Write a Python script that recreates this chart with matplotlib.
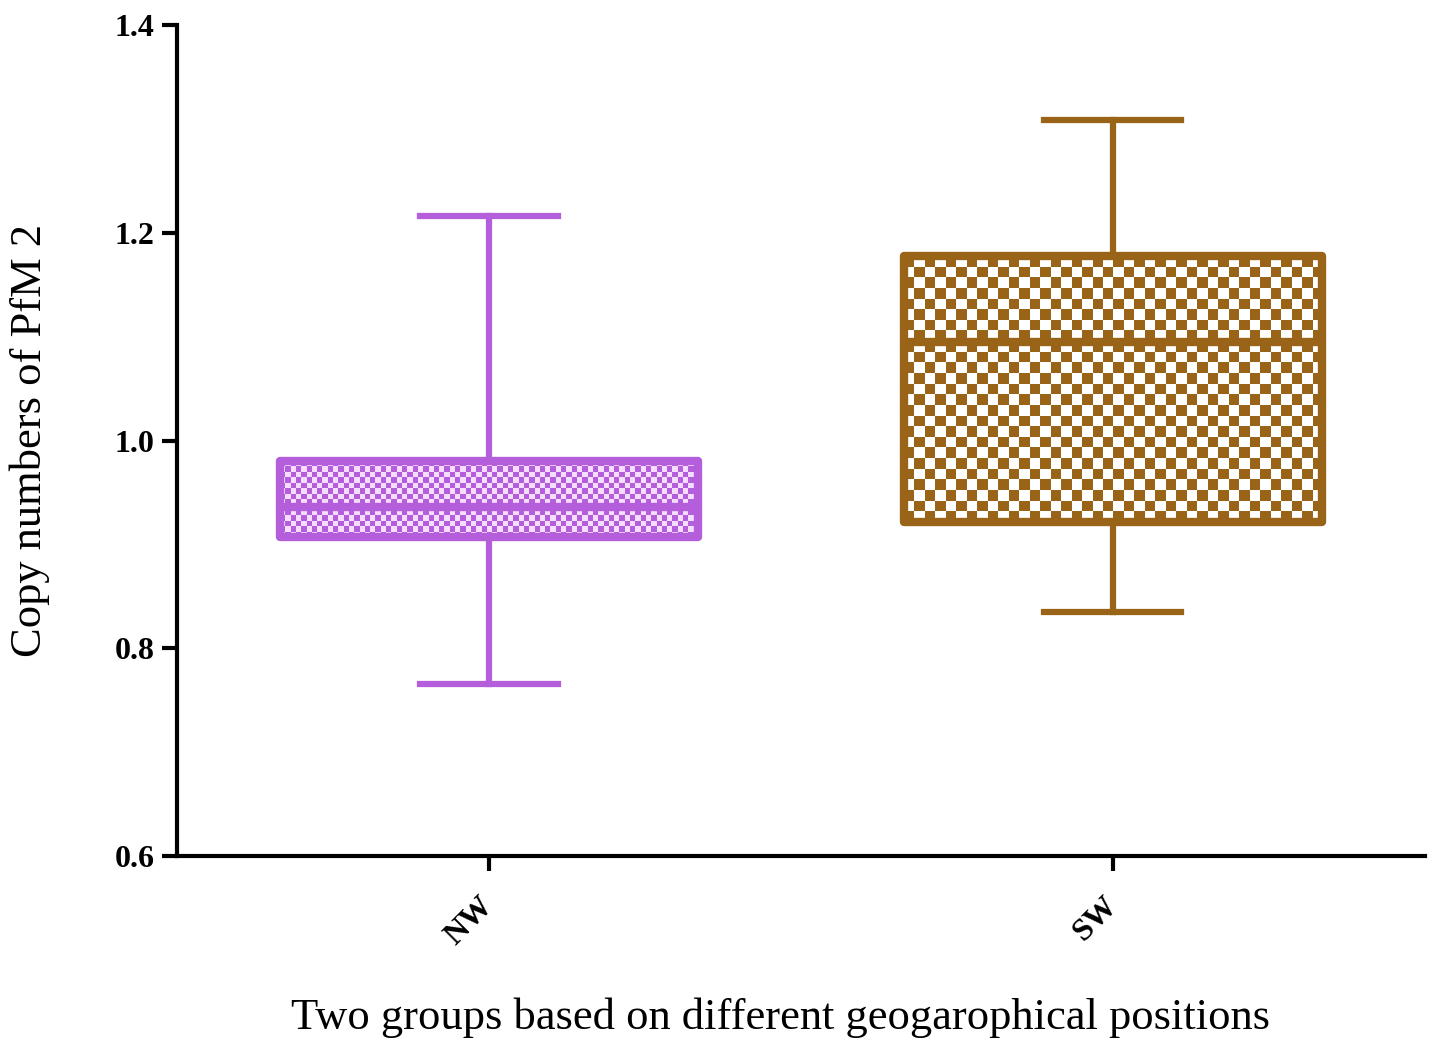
import numpy as np
import matplotlib
matplotlib.use('Agg')
import matplotlib.pyplot as plt

# Valores (cuartiles y bigotes)
grupos = ['NW', 'SW']
bigote_bajo = [0.766, 0.835]
q1 = [0.907, 0.922]
mediana = [0.936, 1.095]
q3 = [0.980, 1.178]
bigote_alto = [1.216, 1.309]

COLORES = ['#B45EDC', '#9A6418']
CLAROS = ['#F6DDFF', '#FFFFFF']
CELDA_PX = [5.3, 10.5]

plt.rcParams['font.family'] = ['Liberation Serif', 'DejaVu Serif']

fig = plt.figure(figsize=(14.42, 10.49), dpi=100)
ax = fig.add_axes([0.1227, 0.184, 0.8653, 0.792])

stats = []
for i, g in enumerate(grupos):
    stats.append({'label': g, 'whislo': bigote_bajo[i], 'q1': q1[i], 'med': mediana[i],
                  'q3': q3[i], 'whishi': bigote_alto[i], 'fliers': []})

pos = np.arange(1, len(grupos) + 1)
ax.set_xlim(0.5, 2.5)
ax.set_ylim(0.6, 1.4)
res = ax.bxp(stats, positions=pos, widths=0.67, patch_artist=True, showfliers=False,
             capwidths=0.22)

for i, c in enumerate(COLORES):
    caja = res['boxes'][i]
    caja.set_facecolor('none'); caja.set_edgecolor(c); caja.set_linewidth(6)
    caja.set_joinstyle('round'); caja.set_zorder(4)
    for art in res['whiskers'][2 * i:2 * i + 2] + res['caps'][2 * i:2 * i + 2]:
        art.set_color(c); art.set_linewidth(4.5)
    res['medians'][i].set_color(c); res['medians'][i].set_linewidth(6)
    res['medians'][i].set_zorder(5)

    # relleno en damero recortado a la caja
    x0, x1 = pos[i] - 0.335, pos[i] + 0.335
    y0, y1 = q1[i], q3[i]
    p0 = ax.transData.transform((x0, y0)); p1 = ax.transData.transform((x1, y1))
    nx = max(1, int(round(abs(p1[0] - p0[0]) / CELDA_PX[i])))
    ny = max(1, int(round(abs(p1[1] - p0[1]) / CELDA_PX[i])))
    dam = (np.add.outer(np.arange(ny), np.arange(nx)) % 2).astype(float)
    cmap = matplotlib.colors.ListedColormap([c, CLAROS[i]])
    im = ax.imshow(dam, extent=(x0, x1, y0, y1), aspect='auto', cmap=cmap,
                   interpolation='nearest', zorder=3)
    im.set_clip_path(caja)

ax.set_xlim(0.5, 2.5)
ax.set_ylim(0.6, 1.4)
ax.set_yticks([0.6, 0.8, 1.0, 1.2, 1.4])
ax.set_yticklabels(['0.6', '0.8', '1.0', '1.2', '1.4'])
ax.set_xticks(pos)
ax.set_xticklabels(grupos, rotation=45, ha='right', va='center', rotation_mode='anchor')
ax.tick_params(axis='both', width=3, length=11, direction='out')
ax.tick_params(axis='y', pad=5)
ax.tick_params(axis='x', pad=22)
for t in ax.get_yticklabels():
    t.set_fontweight('bold'); t.set_fontsize(23)
for t in ax.get_xticklabels():
    t.set_fontweight('bold'); t.set_fontsize(23)
for lado in ['top', 'right']:
    ax.spines[lado].set_visible(False)
for lado in ['left', 'bottom']:
    ax.spines[lado].set_linewidth(3)

ax.set_ylabel('Copy numbers of PfM 2', fontsize=32)
ax.yaxis.set_label_coords(-0.102, 0.5)
ax.set_xlabel('Two groups based on different geogarophical positions', fontsize=32)
ax.xaxis.set_label_coords(0.484, -0.17)

fig.savefig('out.png', dpi=100)
